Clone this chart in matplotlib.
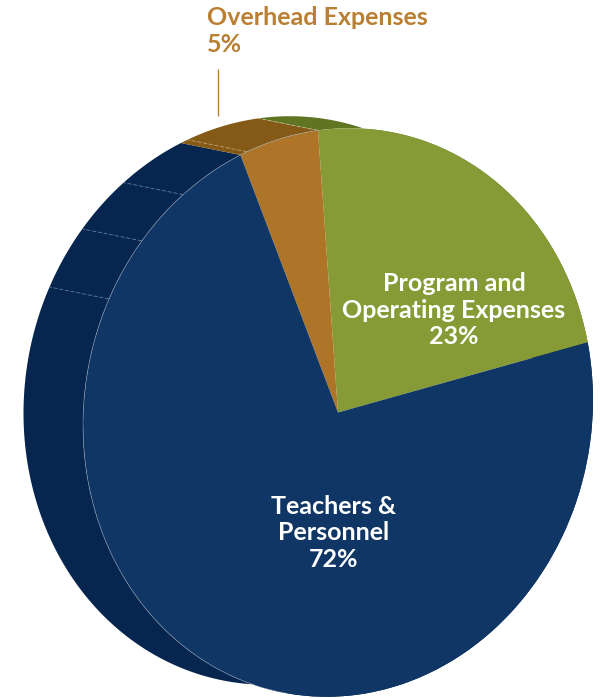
import numpy as np
import matplotlib
matplotlib.use("Agg")
import matplotlib.pyplot as plt
from matplotlib.patches import Polygon
from matplotlib.transforms import Affine2D

# data
categories = ["Program and\nOperating Expenses", "Overhead Expenses", "Teachers &\nPersonnel"]
values = [23, 5, 72]
face_colors = ["#869b35", "#ae7428", "#0f3664"]
side_colors = ["#5f7522", "#855a16", "#06254f"]
seam_angles = [94.5, 110.9, 127.4, 140.3, 153.9]
seam_colors = ["#c9d0a8", "#d9c39a", "#8fa0b8", "#8fa0b8", "#8fa0b8"]

# geometry (pixel coordinates of the figure)
W, H = 600, 698
cx, cy = 338.0, 412.5
rx, ry = 255.0, 284.0
shear = 0.05
off_x, off_y = -59.5, -12.0
start = 11.7

plt.rcParams["font.family"] = ["Lato", "DejaVu Sans"]
fig = plt.figure(figsize=(W / 100, H / 100), dpi=100)
ax = fig.add_axes([0, 0, 1, 1])

matrix = np.array([[rx, 0, cx], [-shear * rx, -ry, cy], [0, 0, 1.0]])
to_px = Affine2D(matrix)


def rim(theta_deg, dx=0.0, dy=0.0):
    t = np.radians(theta_deg)
    return np.column_stack([
        cx + rx * np.cos(t) + dx,
        cy - ry * np.sin(t) - shear * rx * np.cos(t) + dy,
    ])


sweeps = np.array(values) / sum(values) * 360
edges = start + np.concatenate([[0], np.cumsum(sweeps)])

# side wall, swept from the front rim to the back rim
for i in [2, 0, 1]:
    th = np.linspace(edges[i], edges[i + 1], 240)
    pts = np.vstack([rim(th), rim(th, off_x, off_y)[::-1]])
    ax.add_patch(Polygon(pts, closed=True, facecolor=side_colors[i], edgecolor="none", zorder=1))

# seams on the side wall
for a, c in zip(seam_angles, seam_colors):
    p = np.vstack([rim(a), rim(a, off_x, off_y)])
    ax.plot(p[:, 0], p[:, 1], color=c, lw=0.6, ls=(0, (5, 2)), alpha=0.7, zorder=2)

# top face
wedges, _ = ax.pie(values, colors=face_colors, startangle=start, counterclock=True,
                   radius=1, center=(0, 0), wedgeprops={"linewidth": 0, "zorder": 3})
for w in wedges:
    w.set_transform(to_px + ax.transData)
    w.set_zorder(3)

# light rim of the top face where it meets the wall
th = np.linspace(edges[1], 258, 300)
p = rim(th)
ax.plot(p[:, 0], p[:, 1], color="#9fb0c4", lw=0.5, alpha=0.6, zorder=4)

ax.set_aspect("auto")
ax.set_xlim(0, W)
ax.set_ylim(H, 0)
ax.axis("off")

# labels
ax.text(454, 310, f"{categories[0]}\n{values[0]}%", color="white", fontsize=18,
        fontweight="bold", ha="center", va="center", linespacing=1.2, zorder=5)
ax.text(334, 533, f"{categories[2]}\n{values[2]}%", color="white", fontsize=18,
        fontweight="bold", ha="center", va="center", linespacing=1.2, zorder=5)
ax.text(207, 31, f"{categories[1]}\n{values[1]}%", color="#b97f33", fontsize=18,
        fontweight="bold", ha="left", va="center", linespacing=1.2, zorder=5)

# leader
ax.plot([218, 218], [69, 116], color="#b97f33", lw=1.0, solid_capstyle="butt", zorder=5)

fig.savefig("out.png", dpi=100, facecolor="white")
